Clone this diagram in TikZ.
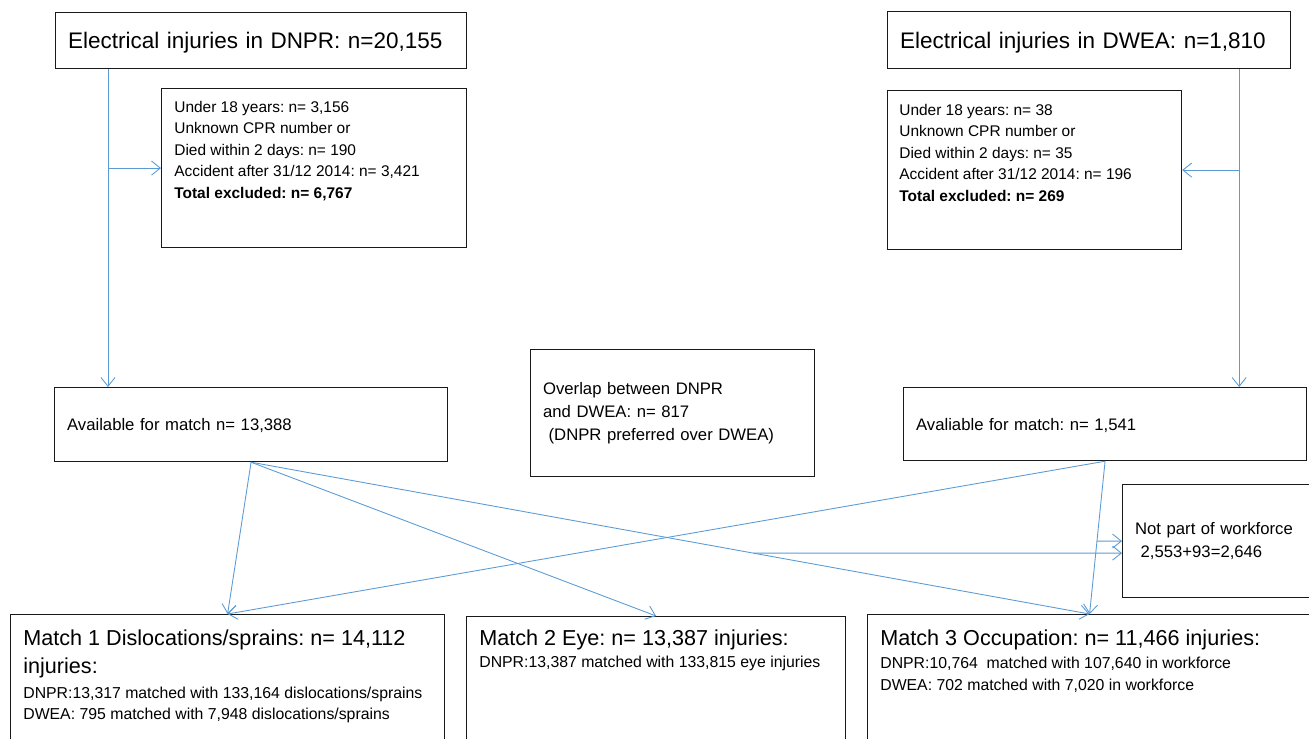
\documentclass[tikz,border=0pt]{standalone}
\usepackage{fontspec}
\setmainfont{Liberation Sans}
\usetikzlibrary{arrows.meta, positioning}
\definecolor{flowblue}{RGB}{91,155,213}
\frenchspacing

\begin{document}
\begin{tikzpicture}[
    x=0.02cm, y=-0.02cm,
    box/.style={rectangle, draw=black!90, line width=0.7pt, anchor=north west, inner sep=0pt},
    headbox/.style={box, inner xsep=0.25cm, align=left, text depth=0pt, font=\fontsize{12.8}{15}\selectfont},
    countbox/.style={box, inner xsep=0.25cm, align=left, font=\fontsize{9.5}{13.2}\selectfont},
    note/.style={inner sep=0pt, align=left, font=\fontsize{8.8}{12.3}\selectfont},
    matchhead/.style={inner sep=0pt, align=left, font=\fontsize{12.3}{16.4}\selectfont},
    matchnote/.style={inner sep=0pt, align=left, font=\fontsize{9}{12.2}\selectfont},
    flow/.style={draw=flowblue, line width=0.5pt, -{Straight Barb[length=5pt,width=8pt]}}
]
\useasboundingbox (0,0) rectangle (1309,739);
\clip (0,0) rectangle (1309,739);

% Registers
\node[headbox, text width=7.72cm, minimum height=1.12cm] (dnpr) at (55,12) {Electrical injuries in DNPR: n=20,155};
\node[headbox, text width=7.56cm, minimum height=1.14cm] (dwea) at (887,11) {Electrical injuries in DWEA: n=1,810};

% Exclusions
\node[box, minimum width=6.10cm, minimum height=3.18cm] (exD) at (161,88) {};
\node[note, below right=0.25cm and 0.26cm of exD.north west] (exDtext) {Under 18 years: n= 3,156\\
    Unknown CPR number or\\
    Died within 2 days: n= 190\\
    Accident after 31/12 2014: n= 3,421\\
    \textbf{Total excluded: n= 6,767}};
\node[box, minimum width=5.88cm, minimum height=3.18cm] (exW) at (887,90) {};
\node[note, below right=0.27cm and 0.24cm of exW.north west] (exWtext) {Under 18 years: n= 38\\
    Unknown CPR number or\\
    Died within 2 days: n= 35\\
    Accident after 31/12 2014: n= 196\\
    \textbf{Total excluded: n= 269}};

% Available for matching
\node[countbox, text depth=0pt, text width=7.36cm, minimum height=1.48cm] (avD) at (54,387) {Available for match n= 13,388};
\node[countbox, text depth=0pt, text width=7.56cm, minimum height=1.46cm] (avW) at (903,387) {Avaliable for match: n= 1,541};
\node[countbox, text width=5.18cm, minimum height=2.54cm] (overlap) at (530,349) {Overlap between DNPR\\and DWEA: n= 817\\\ (DNPR preferred over DWEA)};
\node[countbox, text width=3.5cm, minimum height=2.26cm] (notpart) at (1122,484) {Not part of workforce\\\ 2,553+93=2,646};

% Matches
\node[box, minimum width=8.68cm, minimum height=3cm] (m1) at (10,614) {};
\node[matchhead, below right=0.30cm and 0.26cm of m1.north west] (m1head) {Match 1 Dislocations/sprains: n= 14,112\\injuries:};
\node[matchnote, below right=0.16cm and 0cm of m1head.south west] (m1info) {DNPR:13,317 matched with 133,164 dislocations/sprains\\
    DWEA: 795 matched with 7,948 dislocations/sprains};

\node[box, minimum width=7.58cm, minimum height=3cm] (m2) at (466,616) {};
\node[matchhead, below right=0.26cm and 0.26cm of m2.north west] (m2head) {Match 2 Eye: n= 13,387 injuries:};
\node[matchnote, below right=0.12cm and 0cm of m2head.south west] (m2info) {DNPR:13,387 matched with 133,815 eye injuries};

\node[box, minimum width=8.88cm, minimum height=3cm] (m3) at (867,614) {};
\node[matchhead, below right=0.30cm and 0.26cm of m3.north west] (m3head) {Match 3 Occupation: n= 11,466 injuries:};
\node[matchnote, below right=0.14cm and 0cm of m3head.south west] (m3info) {DNPR:10,764\ \ matched with 107,640 in workforce\\
    DWEA: 702 matched with 7,020 in workforce};

% Flow down from the registers
\coordinate (dsplit) at ([xshift=1.06cm]dnpr.south west);
\coordinate (wsplit) at ([xshift=-1.04cm]dwea.south east);
\draw[flow] (dsplit) -- (dsplit |- avD.north);
\draw[flow] (exD.west -| dsplit) -- (exD.west);
\draw[flow] (wsplit) -- (wsplit |- avW.north);
\draw[flow] (exW.east -| wsplit) -- (exW.east);

% Flow into the matches
\draw[flow] (avD.south) -- (m1.north);
\draw[flow] (avD.south) -- (m2.north);
\draw[flow] (avD.south) -- (m3.north);
\draw[flow] (avW.south) -- (m1.north);
\draw[flow] (avW.south) -- (m3.north);

% Outside the workforce
\coordinate (np2) at ([yshift=-0.24cm]notpart.west);
\coordinate (np2e) at ([yshift=-0.24cm]notpart.east);
\draw[flow] (intersection of avW.south--m3.north and notpart.west--notpart.east) -- (notpart.west);
\draw[flow] (intersection of avD.south--m3.north and np2--np2e) -- (np2);

\end{tikzpicture}
\end{document}
